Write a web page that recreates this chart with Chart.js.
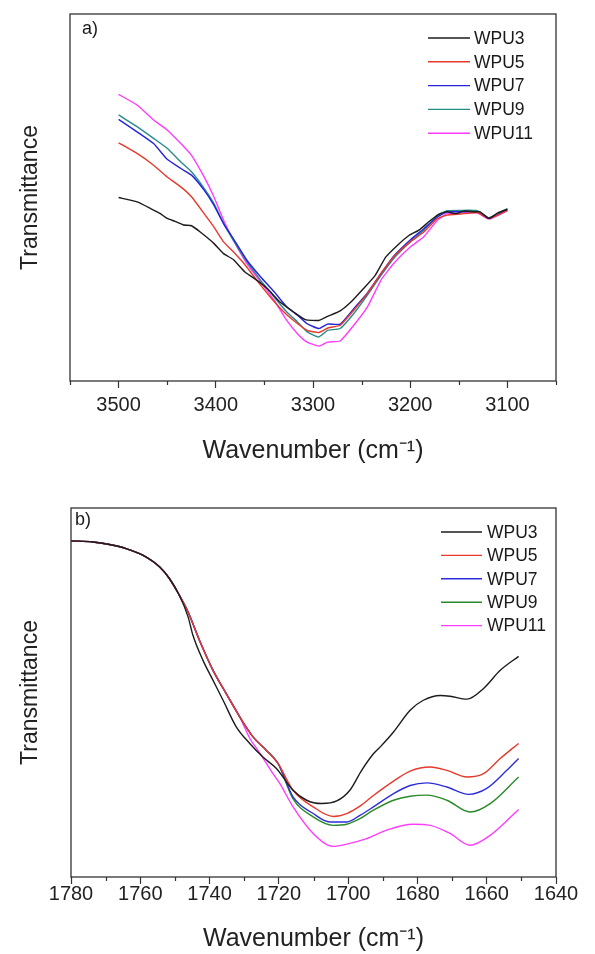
<!DOCTYPE html>
<html><head><meta charset="utf-8">
<script src="https://cdn.jsdelivr.net/npm/chart.js@4.4.1/dist/chart.umd.min.js"></script>
<style>
html,body{margin:0;padding:0;background:#fff;}
#wrap{position:relative;width:595px;height:954px;background:#fff;}
canvas{position:absolute;left:0;}
</style></head><body>
<div id="wrap">
<canvas id="ca" width="595" height="477" style="top:0px"></canvas>
<canvas id="cb" width="595" height="477" style="top:477px"></canvas>
</div>
<script>
// ---------- DATA ----------
const seriesNames = ['WPU3', 'WPU5', 'WPU7', 'WPU9', 'WPU11'];

// Panel a) wavenumber (cm-1) and transmittance (arbitrary units, 0-100)
const aX_WPU3 = [3500,3481,3467,3457,3450,3442,3433,3425,3416,3402,3392,3382,3370,3358,3347,3334,3320,3308,3294,3285,3272,3261,3248,3236,3225,3213,3201,3191,3179,3169,3162,3153,3145,3134,3128,3119,3110,3100];
const aY_WPU3 = [50.0,48.8,47.0,45.6,44.3,43.5,42.5,42.3,40.6,37.5,34.7,33.1,29.7,27.5,25.2,21.5,18.8,16.7,16.5,17.6,19.1,21.5,25.2,28.8,33.8,37.0,39.7,41.1,43.8,45.6,46.1,45.6,46.3,46.1,46.1,44.3,45.8,46.8];
const aX_WPU5 = [3500,3481,3464,3450,3436,3425,3412,3402,3392,3382,3371,3358,3344,3330,3320,3306,3294,3284,3272,3258,3244,3230,3217,3200,3186,3172,3162,3148,3131,3119,3100];
const aY_WPU5 = [64.9,62.0,58.8,55.6,52.9,50.2,45.6,42.0,37.9,35.2,32.0,27.5,22.9,18.8,16.5,13.8,13.2,14.5,15.2,19.3,23.8,29.3,33.8,37.9,40.6,44.3,45.2,45.5,45.9,44.3,46.4];
const aX_common = [3500,3481,3464,3450,3436,3425,3412,3402,3392,3382,3368,3354,3340,3327,3316,3306,3294,3285,3272,3258,3244,3230,3217,3200,3186,3172,3162,3148,3131,3119,3100];
const aY_WPU7 = [71.3,67.9,64.7,60.4,57.9,56.1,52.0,47.9,42.9,38.8,32.9,28.4,24.3,20.2,17.9,15.6,14.3,15.5,15.5,19.7,24.0,29.3,34.0,38.4,41.5,44.7,46.1,46.1,46.1,44.3,46.7];
const aY_WPU9 = [72.5,69.3,66.1,63.4,59.7,57.0,52.5,48.4,42.9,38.4,32.5,27.5,22.9,18.8,16.1,13.4,12.0,13.8,14.3,18.4,23.4,28.8,33.4,37.9,41.1,45.2,46.4,46.5,46.4,44.5,47.0];
const aY_WPU11 = [78.1,75.2,71.1,68.4,64.7,61.5,55.6,50.2,43.8,38.4,32.0,27.0,22.0,16.5,12.9,10.6,9.5,10.6,10.9,15.2,20.2,27.5,32.0,36.5,39.3,43.8,45.6,45.8,45.8,44.1,46.4];
const aTicks = [3500,3400,3300,3200,3100];

// Panel b) shared start of all curves, then each series' own tail
const bX_head = [1780,1773.7,1768.9,1764.1,1759.3,1754.4,1751.6,1748.7];
const bY_head = [91.1,90.8,90.1,89.0,87.2,84.0,80.9,76.3];
const bX_WPU3 = [1746.2,1744.8,1741.9,1739.0,1736.1,1732.3,1728.4,1724.6,1720.7,1715.9,1712.0,1707.7,1703.3,1699.5,1696.1,1692.7,1690.8,1686.9,1682.1,1678.3,1673.4,1670.6,1665.7,1660.9,1656.1,1650.8];
const bY_WPU3 = [70.5,65.5,58.7,53.3,47.9,40.7,36.2,32.5,29.4,23.5,20.8,19.9,20.6,23.5,28.9,33.4,35.2,39.3,45.2,47.9,49.2,49.0,48.2,51.1,56.0,59.8];
const bX_mid = [1746.2,1742.9,1739.0,1735.2,1731.3,1727.4,1723.6,1720.2];
const bY_mid = [71.8,64.1,56.0,49.7,43.4,37.9,34.3,30.7];
const bX_WPU5 = [1715.9,1710.1,1704.3,1700.4,1696.6,1692.7,1686.9,1682.1,1676.3,1671.5,1665.7,1660.9,1656.1,1650.8];
const bY_WPU5 = [23.5,19.0,16.4,17.2,19.2,22.1,26.0,28.7,29.8,28.9,27.1,28.0,32.1,36.2];
const bX_WPU7 = [1715.9,1710.1,1705.3,1700.4,1696.6,1692.7,1686.9,1682.1,1677.3,1671.5,1665.2,1660.0,1654.2,1650.8];
const bY_WPU7 = [21.7,17.2,14.9,14.9,16.7,19.0,22.6,24.8,25.5,24.4,22.4,24.0,28.9,32.1];
const bX_WPU9 = [1715.9,1710.1,1704.3,1700.4,1696.6,1692.7,1686.9,1682.1,1677.3,1671.5,1664.8,1659.0,1650.8];
const bY_WPU9 = [21.2,16.3,14.0,14.3,15.8,18.1,20.8,21.9,22.2,20.8,17.6,19.9,27.1];
const bX_WPU11 = [1746.2,1742.9,1739.0,1735.2,1731.3,1728.4,1725.5,1721.7,1719.7,1715.9,1710.1,1704.3,1700.4,1694.7,1688.9,1681.2,1676.3,1670.6,1664.8,1659.0,1650.8];
const bY_WPU11 = [71.8,64.1,56.0,49.7,43.4,37.6,33.6,28.0,25.3,19.0,11.8,8.3,8.9,10.4,12.7,14.3,14.0,11.8,8.6,11.3,18.3];
const bTicks = [1780,1760,1740,1720,1700,1680,1660,1640];

// ---------- STYLE ----------
const FONT = '"Liberation Sans", Arial, Helvetica, sans-serif';
const colorsA = ['#1c1c1c', '#e53a2c', '#2424d8', '#268c8a', '#ff3cff'];
const colorsB = ['#1c1c1c', '#e53a2c', '#2e2ed8', '#2a8a2a', '#ff3cff'];

function mk(label, xs, ys, color, smooth) {
  const d = { label, data: xs.map((x, i) => ({ x, y: ys[i] })), borderColor: color,
           backgroundColor: color, borderWidth: 1.4, pointRadius: 0, fill: false };
  if (smooth) { d.cubicInterpolationMode = 'monotone'; } else { d.tension = 0.15; }
  return d;
}

const framePlugin = {
  id: 'frame',
  afterDraw(chart, args, o) {
    const ctx = chart.ctx, ca = chart.chartArea, xs = chart.scales.x;
    ctx.save();
    ctx.strokeStyle = '#333'; ctx.lineWidth = 1.3;
    ctx.strokeRect(ca.left, ca.top, ca.right - ca.left, ca.bottom - ca.top);
    // minor ticks
    ctx.lineWidth = 1.2;
    ctx.beginPath();
    o.minor.forEach(v => {
      const px = Math.round(xs.getPixelForValue(v)) + 0.5;
      ctx.moveTo(px, ca.bottom); ctx.lineTo(px, ca.bottom + 4);
    });
    ctx.stroke();
    // legend
    ctx.font = '17.5px ' + FONT;
    ctx.textBaseline = 'middle';
    ctx.textAlign = 'left';
    chart.data.datasets.forEach((d, i) => {
      const y = o.ly + i * o.ldy;
      ctx.strokeStyle = d.borderColor; ctx.lineWidth = 1.4;
      ctx.beginPath(); ctx.moveTo(o.lx0, y); ctx.lineTo(o.lx1, y); ctx.stroke();
      ctx.fillStyle = '#1a1a1a';
      ctx.fillText(d.label, o.tx, y + 1);
    });
    // panel label
    ctx.font = '18px ' + FONT;
    ctx.fillText(o.tag, o.tagX, o.tagY);
    ctx.restore();
  }
};

function opts(cfg) {
  return {
    responsive: false, animation: false, devicePixelRatio: 1,
    layout: { padding: { top: cfg.top, right: 39, left: 0, bottom: 0 } },
    plugins: { legend: { display: false }, tooltip: { enabled: false }, frame: cfg.frame },
    scales: {
      x: {
        type: 'linear', min: cfg.min, max: cfg.max, reverse: true,
        afterBuildTicks: s => { s.ticks = cfg.ticks.map(v => ({ value: v })); },
        afterFit: s => { s.height = cfg.xh; },
        grid: { display: true, drawOnChartArea: false, drawTicks: true, tickLength: 7, tickColor: '#333', tickWidth: 1.2 },
        border: { display: false },
        ticks: { font: { family: FONT, size: 20, lineHeight: 1 }, color: '#222', padding: cfg.tpad, maxRotation: 0, autoSkip: false,
                 callback: v => String(v) },
        title: { display: true, text: 'Wavenumber (cm\u207B\u00B9)', font: { family: FONT, size: 25 }, color: '#222', padding: { top: 0, bottom: cfg.titlePad } }
      },
      y: {
        min: 0, max: 100,
        afterFit: s => { s.width = cfg.yw; },
        ticks: { display: false }, grid: { display: false }, border: { display: false },
        title: { display: true, text: 'Transmittance', font: { family: FONT, size: 23 }, color: '#222', padding: { top: 17, bottom: 0 } }
      }
    }
  };
}

new Chart(document.getElementById('ca'), {
  type: 'line',
  data: { datasets: [
    mk(seriesNames[0], aX_WPU3, aY_WPU3, colorsA[0], false),
    mk(seriesNames[1], aX_WPU5, aY_WPU5, colorsA[1], false),
    mk(seriesNames[2], aX_common, aY_WPU7, colorsA[2], false),
    mk(seriesNames[3], aX_common, aY_WPU9, colorsA[3], false),
    mk(seriesNames[4], aX_common, aY_WPU11, colorsA[4], false)
  ] },
  options: opts({ top: 14, min: 3050, max: 3550, ticks: aTicks, xh: 96, yw: 70, tpad: 7, titlePad: 11,
    frame: { minor: [3550,3450,3350,3250,3150,3050], lx0: 428, lx1: 470, tx: 474, ly: 38, ldy: 23.8, tag: 'a)', tagX: 82, tagY: 29 } }),
  plugins: [framePlugin]
});

new Chart(document.getElementById('cb'), {
  type: 'line',
  data: { datasets: [
    mk(seriesNames[0], bX_head.concat(bX_WPU3), bY_head.concat(bY_WPU3), colorsB[0], true),
    mk(seriesNames[1], bX_head.concat(bX_mid, bX_WPU5), bY_head.concat(bY_mid, bY_WPU5), colorsB[1], true),
    mk(seriesNames[2], bX_head.concat(bX_mid, bX_WPU7), bY_head.concat(bY_mid, bY_WPU7), colorsB[2], true),
    mk(seriesNames[3], bX_head.concat(bX_mid, bX_WPU9), bY_head.concat(bY_mid, bY_WPU9), colorsB[3], true),
    mk(seriesNames[4], bX_head.concat(bX_WPU11), bY_head.concat(bY_WPU11), colorsB[4], true)
  ] },
  options: opts({ top: 31, min: 1640, max: 1780, ticks: bTicks, xh: 77, yw: 71, tpad: 0, titlePad: 0,
    frame: { minor: [1770,1750,1730,1710,1690,1670,1650], lx0: 441, lx1: 482, tx: 487, ly: 55, ldy: 23.4, tag: 'b)', tagX: 75, tagY: 43 } }),
  plugins: [framePlugin]
});
</script>
</body></html>
